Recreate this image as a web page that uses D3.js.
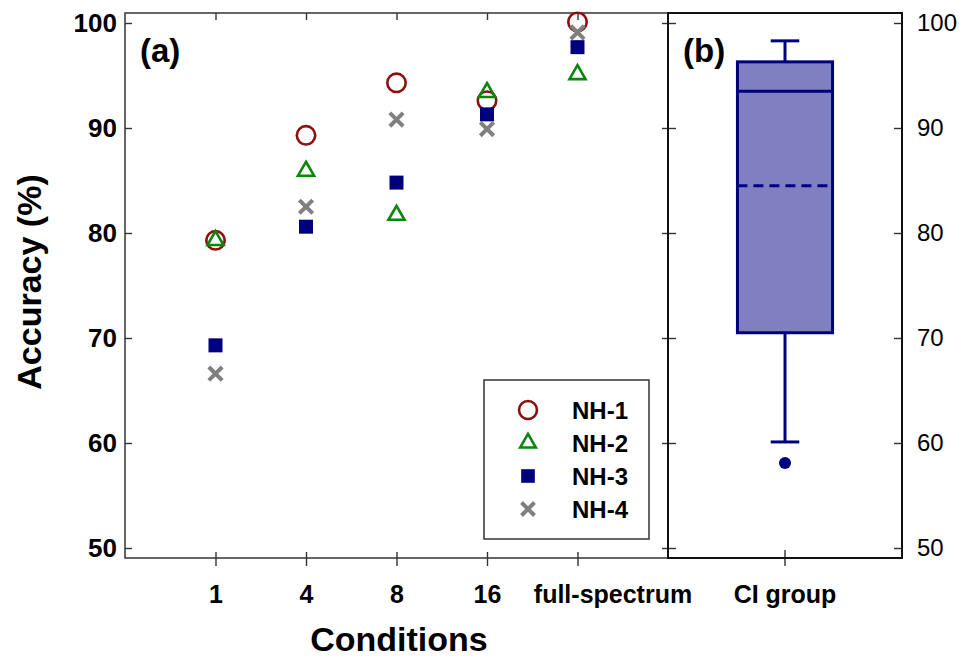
<!DOCTYPE html>
<html>
<head>
<meta charset="utf-8">
<script src="https://cdn.jsdelivr.net/npm/d3@7"></script>
<style>
  body { margin: 0; background: #fff; }
  svg { display: block; font-family: "Liberation Sans", Arial, Helvetica, sans-serif; }
</style>
</head>
<body>
<svg id="chart" width="965" height="660"></svg>
<script>
// data
const conditions = ["1", "4", "8", "16", "full-spectrum"];
const seriesNames = ["NH-1", "NH-2", "NH-3", "NH-4"];
const nh1 = [79.3, 89.3, 94.3, 92.6, 100.1];
const nh2 = [79.3, 85.9, 81.7, 93.4, 95.1];
const nh3 = [69.3, 80.6, 84.8, 91.3, 97.7];
const nh4 = [66.6, 82.5, 90.8, 89.9, 99.1];
const yTicks = [50, 60, 70, 80, 90, 100];

// CI group box plot
const ciGroup = ["CI group"];
const ciStatNames = ["whiskerLow", "q1", "median", "q3", "whiskerHigh", "mean"];
const ciStatValues = [60.1, 70.5, 93.5, 96.3, 98.3, 84.5];
const ciOutliers = [58.1];

const svg = d3.select("#chart");

const pLeft = 125, pTop = 13, pBottom = 558, pMid = 668, pRight = 902;

const y = d3.scaleLinear().domain([49, 101]).range([pBottom + 0.5, pTop - 0.5]);
const x = d3.scalePoint().domain(conditions).range([pLeft, pMid]).padding(1);
const x2 = d3.scaleBand().domain(ciGroup).range([pMid, pRight]).paddingOuter(0.73).paddingInner(0);

const styles = [
  { type: d3.symbolCircle, size: 266, fill: "none", stroke: "#8b1010", sw: 2.6 },
  { type: d3.symbolTriangle, size: 112, fill: "none", stroke: "#0a870a", sw: 2.6 },
  { type: d3.symbolSquare, size: 196, fill: "#00007f", stroke: "none", sw: 0 },
  { type: d3.symbolTimes, size: 118, fill: "none", stroke: "#808080", sw: 4 }
];
const allSeries = [nh1, nh2, nh3, nh4];

// ---- panel (a) axes
const axL = svg.append("g").attr("transform", `translate(${pLeft},0)`)
  .call(d3.axisLeft(y).tickValues(yTicks).tickSize(-7).tickPadding(8));
const axB = svg.append("g").attr("transform", `translate(0,${pBottom})`)
  .call(d3.axisBottom(x).tickSize(8).tickPadding(19));
axB.selectAll(".tick line").attr("y1", -6);
const axT = svg.append("g").attr("transform", `translate(0,${pTop})`)
  .call(d3.axisTop(x).tickSize(-7).tickFormat(""));
const axM = svg.append("g").attr("transform", `translate(${pMid},0)`)
  .call(d3.axisLeft(y).tickValues(yTicks).tickSize(6).tickFormat(""));
axM.selectAll(".tick line").attr("x1", 8);

// ---- panel (b) axes
const axR = svg.append("g").attr("transform", `translate(${pRight},0)`)
  .call(d3.axisRight(y).tickValues(yTicks).tickSize(-8).tickPadding(15));
const axB2 = svg.append("g").attr("transform", `translate(0,${pBottom})`)
  .call(d3.axisBottom(x2).tickSize(8).tickPadding(19));
axB2.selectAll(".tick line").attr("y1", -8);

svg.selectAll(".domain").remove();
svg.selectAll(".tick line").attr("stroke", "#333").attr("stroke-width", 1.4);
svg.selectAll(".tick text").attr("fill", "#000").attr("font-size", 25)
  .attr("font-weight", "bold").attr("font-family", "Liberation Sans, Arial, sans-serif");
axL.selectAll(".tick text").attr("font-size", 26);
axR.selectAll(".tick text").attr("font-weight", "normal").attr("font-size", 24);
// the long label sits right of its tick, as in the figure
axB.selectAll(".tick text").filter(d => d === "full-spectrum").attr("dx", 35);

// frames
svg.append("rect").attr("x", pLeft).attr("y", pTop).attr("width", pMid - pLeft).attr("height", pBottom - pTop)
  .attr("fill", "none").attr("stroke", "#333").attr("stroke-width", 1.5);
svg.append("rect").attr("x", pMid).attr("y", pTop).attr("width", pRight - pMid).attr("height", pBottom - pTop)
  .attr("fill", "none").attr("stroke", "#111").attr("stroke-width", 2);

// ---- scatter markers
allSeries.forEach((vals, i) => {
  const st = styles[i];
  svg.append("g").selectAll("path").data(vals).join("path")
    .attr("transform", (d, j) => `translate(${x(conditions[j])},${y(d)})`)
    .attr("d", d3.symbol().type(st.type).size(st.size))
    .attr("fill", st.fill).attr("stroke", st.stroke).attr("stroke-width", st.sw);
});

// ---- box plot
const stat = {};
ciStatNames.forEach((n, i) => stat[n] = ciStatValues[i]);
const bx = x2("CI group"), bw = x2.bandwidth(), cx = bx + bw / 2;
const navy = "#00007f";
const g = svg.append("g");
g.append("line").attr("x1", cx).attr("x2", cx).attr("y1", y(stat.q3)).attr("y2", y(stat.whiskerHigh))
  .attr("stroke", navy).attr("stroke-width", 3);
g.append("line").attr("x1", cx).attr("x2", cx).attr("y1", y(stat.q1)).attr("y2", y(stat.whiskerLow))
  .attr("stroke", navy).attr("stroke-width", 3);
[stat.whiskerHigh, stat.whiskerLow].forEach(v => {
  g.append("line").attr("x1", cx - bw * 0.15).attr("x2", cx + bw * 0.15).attr("y1", y(v)).attr("y2", y(v))
    .attr("stroke", navy).attr("stroke-width", 3);
});
g.append("rect").attr("x", bx).attr("y", y(stat.q3)).attr("width", bw).attr("height", y(stat.q1) - y(stat.q3))
  .attr("fill", "#8080c0").attr("stroke", navy).attr("stroke-width", 3);
g.append("line").attr("x1", bx).attr("x2", bx + bw).attr("y1", y(stat.median)).attr("y2", y(stat.median))
  .attr("stroke", navy).attr("stroke-width", 3);
g.append("line").attr("x1", bx).attr("x2", bx + bw).attr("y1", y(stat.mean)).attr("y2", y(stat.mean))
  .attr("stroke", navy).attr("stroke-width", 3).attr("stroke-dasharray", "10,6");
g.selectAll("circle").data(ciOutliers).join("circle")
  .attr("cx", cx).attr("cy", d => y(d)).attr("r", 6).attr("fill", navy);

// ---- legend
const leg = svg.append("g");
leg.append("rect").attr("x", 484).attr("y", 380).attr("width", 165).attr("height", 159)
  .attr("fill", "#fff").attr("stroke", "#333").attr("stroke-width", 1.5);
seriesNames.forEach((n, i) => {
  const st = styles[i];
  const ly = 410 + i * 33;
  leg.append("path").attr("transform", `translate(528,${ly})`)
    .attr("d", d3.symbol().type(st.type).size(st.size * 0.95))
    .attr("fill", st.fill).attr("stroke", st.stroke).attr("stroke-width", st.sw);
  leg.append("text").attr("x", 572).attr("y", ly).attr("dy", "0.36em")
    .attr("font-size", 24).attr("font-weight", "bold").text(n);
});

// ---- titles
svg.append("text").attr("x", 140).attr("y", 62).attr("font-size", 33).attr("font-weight", "bold").text("(a)");
svg.append("text").attr("x", 683).attr("y", 62).attr("font-size", 33).attr("font-weight", "bold").text("(b)");
svg.append("text").attr("transform", "translate(41,282) rotate(-90)")
  .attr("text-anchor", "middle").attr("font-size", 34).attr("font-weight", "bold").text("Accuracy (%)");
svg.append("text").attr("x", 399).attr("y", 651).attr("text-anchor", "middle")
  .attr("font-size", 34).attr("font-weight", "bold").text("Conditions");
</script>
</body>
</html>
